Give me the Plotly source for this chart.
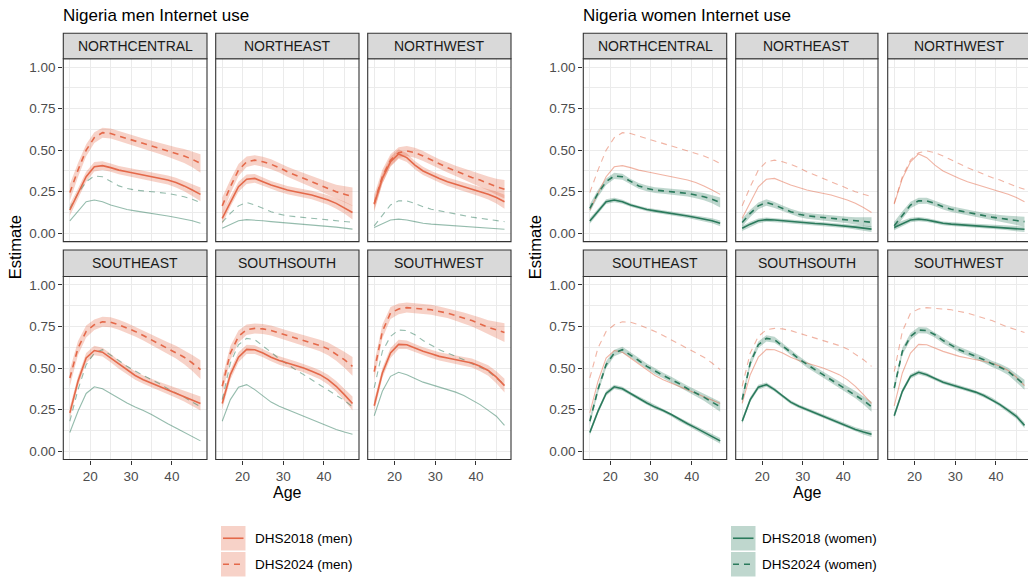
import plotly.graph_objects as go

AGES = [15, 17, 19, 21, 23, 25, 27, 29, 31, 33, 35, 37, 39, 41, 43, 45, 47]
REGIONS = ["NORTHCENTRAL", "NORTHEAST", "NORTHWEST", "SOUTHEAST", "SOUTHSOUTH", "SOUTHWEST"]

men_2018 = {
    "NORTHCENTRAL": [0.14, 0.24, 0.34, 0.40, 0.407, 0.395, 0.38, 0.37, 0.36, 0.35, 0.34, 0.33, 0.32, 0.305, 0.285, 0.26, 0.234],
    "NORTHEAST":    [0.09, 0.19, 0.28, 0.325, 0.33, 0.31, 0.29, 0.275, 0.26, 0.25, 0.24, 0.23, 0.215, 0.20, 0.18, 0.155, 0.125],
    "NORTHWEST":    [0.175, 0.33, 0.43, 0.477, 0.455, 0.41, 0.375, 0.35, 0.33, 0.31, 0.295, 0.28, 0.265, 0.25, 0.235, 0.215, 0.19],
    "SOUTHEAST":    [0.23, 0.42, 0.56, 0.605, 0.595, 0.56, 0.52, 0.485, 0.455, 0.43, 0.41, 0.39, 0.37, 0.35, 0.33, 0.31, 0.287],
    "SOUTHSOUTH":   [0.287, 0.46, 0.565, 0.612, 0.61, 0.59, 0.565, 0.545, 0.53, 0.515, 0.50, 0.48, 0.46, 0.43, 0.39, 0.34, 0.287],
    "SOUTHWEST":    [0.273, 0.47, 0.59, 0.642, 0.64, 0.62, 0.60, 0.585, 0.57, 0.56, 0.55, 0.54, 0.53, 0.51, 0.485, 0.445, 0.394],
}
men_2024 = {
    "NORTHCENTRAL": [0.245, 0.38, 0.50, 0.575, 0.605, 0.60, 0.585, 0.57, 0.555, 0.54, 0.525, 0.51, 0.495, 0.48, 0.465, 0.445, 0.42],
    "NORTHEAST":    [0.165, 0.28, 0.38, 0.43, 0.44, 0.43, 0.415, 0.395, 0.37, 0.35, 0.33, 0.31, 0.29, 0.27, 0.25, 0.235, 0.22],
    "NORTHWEST":    [0.18, 0.34, 0.44, 0.485, 0.495, 0.485, 0.465, 0.44, 0.415, 0.395, 0.375, 0.355, 0.335, 0.32, 0.30, 0.28, 0.265],
    "SOUTHEAST":    [0.44, 0.62, 0.72, 0.76, 0.778, 0.775, 0.76, 0.74, 0.72, 0.695, 0.67, 0.645, 0.62, 0.595, 0.565, 0.53, 0.49],
    "SOUTHSOUTH":   [0.39, 0.59, 0.69, 0.73, 0.738, 0.735, 0.725, 0.71, 0.695, 0.68, 0.665, 0.65, 0.635, 0.615, 0.585, 0.55, 0.51],
    "SOUTHWEST":    [0.478, 0.72, 0.83, 0.855, 0.863, 0.86, 0.855, 0.85, 0.84, 0.83, 0.815, 0.80, 0.785, 0.765, 0.745, 0.73, 0.713],
}
women_2018 = {
    "NORTHCENTRAL": [0.074, 0.13, 0.19, 0.20, 0.19, 0.17, 0.155, 0.143, 0.135, 0.128, 0.12, 0.112, 0.104, 0.095, 0.085, 0.075, 0.06],
    "NORTHEAST":    [0.03, 0.055, 0.075, 0.082, 0.08, 0.075, 0.07, 0.066, 0.062, 0.059, 0.056, 0.052, 0.048, 0.043, 0.037, 0.031, 0.025],
    "NORTHWEST":    [0.035, 0.06, 0.08, 0.085, 0.08, 0.07, 0.06, 0.055, 0.052, 0.049, 0.046, 0.043, 0.04, 0.036, 0.032, 0.028, 0.024],
    "SOUTHEAST":    [0.112, 0.24, 0.347, 0.387, 0.375, 0.345, 0.315, 0.29, 0.265, 0.245, 0.22, 0.19, 0.165, 0.14, 0.115, 0.09, 0.062],
    "SOUTHSOUTH":   [0.18, 0.31, 0.385, 0.40, 0.37, 0.33, 0.295, 0.27, 0.25, 0.23, 0.21, 0.19, 0.17, 0.15, 0.13, 0.115, 0.102],
    "SOUTHWEST":    [0.213, 0.36, 0.45, 0.474, 0.46, 0.435, 0.415, 0.40, 0.385, 0.37, 0.355, 0.335, 0.31, 0.28, 0.245, 0.21, 0.155],
}
women_2024 = {
    "NORTHCENTRAL": [0.15, 0.24, 0.31, 0.345, 0.34, 0.31, 0.285, 0.27, 0.26, 0.255, 0.25, 0.245, 0.24, 0.23, 0.22, 0.205, 0.185],
    "NORTHEAST":    [0.065, 0.12, 0.165, 0.185, 0.17, 0.15, 0.13, 0.115, 0.105, 0.10, 0.095, 0.09, 0.085, 0.08, 0.075, 0.07, 0.066],
    "NORTHWEST":    [0.045, 0.11, 0.17, 0.195, 0.195, 0.18, 0.16, 0.145, 0.135, 0.125, 0.115, 0.105, 0.097, 0.09, 0.083, 0.076, 0.07],
    "SOUTHEAST":    [0.18, 0.37, 0.52, 0.59, 0.61, 0.58, 0.545, 0.51, 0.48, 0.455, 0.43, 0.405, 0.375, 0.35, 0.325, 0.295, 0.267],
    "SOUTHSOUTH":   [0.31, 0.53, 0.64, 0.678, 0.67, 0.635, 0.595, 0.555, 0.52, 0.49, 0.46, 0.43, 0.40, 0.37, 0.34, 0.305, 0.267],
    "SOUTHWEST":    [0.38, 0.60, 0.69, 0.728, 0.725, 0.70, 0.665, 0.635, 0.61, 0.59, 0.57, 0.55, 0.525, 0.505, 0.48, 0.44, 0.40],
}
# half-width of the confidence ribbons, per survey/sex
hw_men_2018 = [0.035, 0.03, 0.03, 0.028, 0.026, 0.025, 0.025, 0.025, 0.025, 0.025, 0.025, 0.026, 0.027, 0.029, 0.032, 0.036, 0.042]
hw_men_2024 = [0.05, 0.042, 0.036, 0.032, 0.03, 0.03, 0.03, 0.03, 0.03, 0.03, 0.031, 0.033, 0.035, 0.038, 0.042, 0.048, 0.056]
hw_women_2018 = [0.016, 0.015, 0.014, 0.013, 0.012, 0.011, 0.011, 0.011, 0.011, 0.011, 0.011, 0.012, 0.012, 0.013, 0.014, 0.015, 0.017]
hw_women_2024 = [0.024, 0.022, 0.02, 0.019, 0.018, 0.017, 0.017, 0.017, 0.017, 0.017, 0.018, 0.018, 0.019, 0.02, 0.022, 0.025, 0.03]

TITLES = ["Nigeria men Internet use", "Nigeria women Internet use"]
LEGEND_MEN = ["DHS2018 (men)", "DHS2024 (men)"]
LEGEND_WOMEN = ["DHS2018 (women)", "DHS2024 (women)"]
Y_TICKS = [0, 0.25, 0.5, 0.75, 1.0]
Y_TICKTEXT = ["0.00", "0.25", "0.50", "0.75", "1.00"]
X_TICKS = [20, 30, 40]

ORANGE = "rgb(228,105,74)"
GREEN = "rgb(43,122,92)"
ORANGE_FADED = "rgba(228,105,74,0.5)"
GREEN_FADED = "rgba(43,122,92,0.5)"
ORANGE_RIB = "rgba(228,105,74,0.3)"
GREEN_RIB = "rgba(43,122,92,0.3)"
DASH = "6px,5px"
FONT = "Liberation Sans, Arial, sans-serif"

W, H = 1028, 579
COLS = [[(63.3, 207.0), (215.7, 359.0), (367.7, 511.0)],
        [(583.3, 726.7), (735.7, 878.0), (887.7, 1031.0)]]
ROWS = [((58.7, 241.6), (33.3, 58.7)), ((276.5, 459.5), (250.0, 276.5))]
XR = (13.4, 48.6)
YR = (-0.05, 1.05)

def px(x):
    return x / W

def py(y):
    return 1 - y / H

fig = go.Figure()
layout = {}
shapes = []
annotations = []

def ribbon(est, hw):
    lo = [e - h for e, h in zip(est, hw)]
    hi = [e + h for e, h in zip(est, hw)]
    return AGES + AGES[::-1], lo + hi[::-1]

ax = 0
for g in range(2):
    for r in range(2):
        (py0, py1), (sy0, sy1) = ROWS[r]
        for c in range(3):
            ax += 1
            region = REGIONS[r * 3 + c]
            x0, x1 = COLS[g][c]
            xr = XR
            dx1 = x1
            if x1 > W:
                # panel runs past the right edge of the picture
                dx1 = W
                xr = (XR[0], XR[0] + (XR[1] - XR[0]) * (W - x0) / (x1 - x0))
            xa = "xaxis" if ax == 1 else f"xaxis{ax}"
            ya = "yaxis" if ax == 1 else f"yaxis{ax}"
            xref = "x" if ax == 1 else f"x{ax}"
            yref = "y" if ax == 1 else f"y{ax}"
            layout[xa] = dict(
                domain=[px(x0), px(dx1)], range=list(xr), anchor=yref,
                tickvals=X_TICKS, showticklabels=(r == 1),
                ticks="outside" if r == 1 else "", ticklen=4, tickwidth=1, tickcolor="#333333",
                tickfont=dict(family=FONT, size=13.5, color="#4D4D4D"),
                showgrid=True, gridcolor="#EBEBEB", gridwidth=1.1, zeroline=False, showline=False,
                minor=dict(tickvals=[15, 25, 35, 45], showgrid=True, gridcolor="#EBEBEB", gridwidth=0.55, ticks=""),
                fixedrange=True,
            )
            layout[ya] = dict(
                domain=[py(py1), py(py0)], range=list(YR), anchor=xref,
                tickvals=Y_TICKS, ticktext=Y_TICKTEXT, showticklabels=(c == 0),
                ticks="outside" if c == 0 else "", ticklen=4, tickwidth=1, tickcolor="#333333",
                tickfont=dict(family=FONT, size=13.5, color="#4D4D4D"),
                showgrid=True, gridcolor="#EBEBEB", gridwidth=1.1, zeroline=False, showline=False,
                minor=dict(tickvals=[0.125, 0.375, 0.625, 0.875], showgrid=True, gridcolor="#EBEBEB", gridwidth=0.55, ticks=""),
                fixedrange=True,
            )
            if g == 0:
                hi_series = [(men_2018[region], hw_men_2018, "solid"), (men_2024[region], hw_men_2024, DASH)]
                lo_series = [(women_2018[region], "solid"), (women_2024[region], DASH)]
                hcol, rcol, fcol = ORANGE, ORANGE_RIB, GREEN_FADED
            else:
                hi_series = [(women_2018[region], hw_women_2018, "solid"), (women_2024[region], hw_women_2024, DASH)]
                lo_series = [(men_2018[region], "solid"), (men_2024[region], DASH)]
                hcol, rcol, fcol = GREEN, GREEN_RIB, ORANGE_FADED
            for est, hw, dash in hi_series:
                rx, ry = ribbon(est, hw)
                fig.add_trace(go.Scatter(x=rx, y=ry, xaxis=xref, yaxis=yref, fill="toself",
                                         fillcolor=rcol, line=dict(width=0), mode="lines",
                                         hoverinfo="skip", showlegend=False))
            for est, dash in lo_series:
                fig.add_trace(go.Scatter(x=AGES, y=est, xaxis=xref, yaxis=yref, mode="lines",
                                         line=dict(color=fcol, width=1.1, dash=dash),
                                         showlegend=False))
            for est, hw, dash in hi_series:
                fig.add_trace(go.Scatter(x=AGES, y=est, xaxis=xref, yaxis=yref, mode="lines",
                                         line=dict(color=hcol, width=1.6, dash=dash),
                                         showlegend=False))
            # panel border
            shapes.append(dict(type="rect", xref="paper", yref="paper",
                               x0=px(x0), x1=px(x1), y0=py(py1), y1=py(py0),
                               line=dict(color="#333333", width=1.1), fillcolor="rgba(0,0,0,0)", layer="above"))
            # strip
            shapes.append(dict(type="rect", xref="paper", yref="paper",
                               x0=px(x0), x1=px(x1), y0=py(sy1), y1=py(sy0),
                               line=dict(color="#333333", width=1.1), fillcolor="#D9D9D9", layer="above"))
            annotations.append(dict(text=region, xref="paper", yref="paper",
                                    x=px((x0 + x1) / 2), y=py((sy0 + sy1) / 2),
                                    xanchor="center", yanchor="middle", showarrow=False,
                                    font=dict(family=FONT, size=14, color="#1A1A1A")))
    gx0 = COLS[g][0][0]
    gx1 = COLS[g][2][1]
    annotations.append(dict(text=TITLES[g], xref="paper", yref="paper", x=px(gx0 - 2), y=py(16),
                            xanchor="left", yanchor="middle", showarrow=False,
                            font=dict(family=FONT, size=17, color="#000000")))
    annotations.append(dict(text="Estimate", xref="paper", yref="paper", x=px(gx0 - 48), y=py(247),
                            xanchor="center", yanchor="middle", showarrow=False, textangle=-90,
                            font=dict(family=FONT, size=16.5, color="#000000")))
    annotations.append(dict(text="Age", xref="paper", yref="paper", x=px((gx0 + gx1) / 2), y=py(492),
                            xanchor="center", yanchor="middle", showarrow=False, borderpad=0,
                            font=dict(family=FONT, size=16, color="#000000")))

# legends
def legend(kx, tx, labels, col, rib):
    for i, (lab, dash) in enumerate(zip(labels, ["solid", DASH])):
        y0 = 526.0 + i * 26.0
        y1 = y0 + 24.5
        shapes.append(dict(type="rect", xref="paper", yref="paper", x0=px(kx), x1=px(kx + 24.5),
                           y0=py(y1), y1=py(y0), line=dict(width=0), fillcolor=rib, layer="above"))
        shapes.append(dict(type="line", xref="paper", yref="paper", x0=px(kx + 2), x1=px(kx + 22.5),
                           y0=py((y0 + y1) / 2), y1=py((y0 + y1) / 2),
                           line=dict(color=col, width=1.6, dash=dash), layer="above"))
        annotations.append(dict(text=lab, xref="paper", yref="paper", x=px(tx - 2), y=py((y0 + y1) / 2),
                                xanchor="left", yanchor="middle", showarrow=False,
                                font=dict(family=FONT, size=13.5, color="#000000")))

legend(221.0, 255.0, LEGEND_MEN, ORANGE, ORANGE_RIB)
legend(731.0, 762.0, LEGEND_WOMEN, GREEN, GREEN_RIB)

fig.update_layout(
    width=W, height=H, margin=dict(l=0, r=0, t=0, b=0),
    paper_bgcolor="white", plot_bgcolor="white",
    showlegend=False, shapes=shapes, annotations=annotations,
    font=dict(family=FONT),
    **layout,
)
fig.write_html("out.html", config={"displayModeBar": False})
